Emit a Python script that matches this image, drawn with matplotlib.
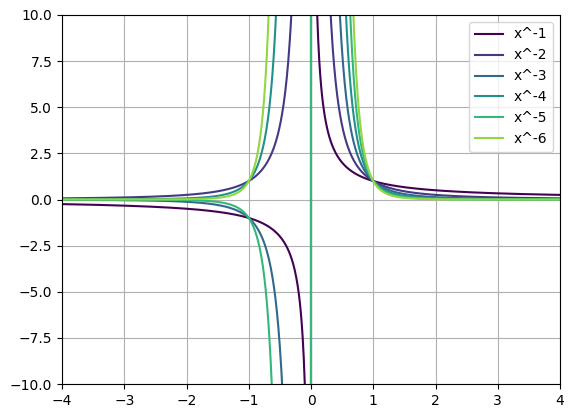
import numpy as np
import matplotlib
matplotlib.use('Agg')
import matplotlib.pyplot as plt

# exponents plotted, y = x^n
powers = [-1, -2, -3, -4, -5, -6]
labels = ['x^-1', 'x^-2', 'x^-3', 'x^-4', 'x^-5', 'x^-6']

x = np.linspace(-4, 4, 1000)  # even count so 0 is skipped

fig = plt.figure(figsize=(5.72, 4.18), dpi=100)
ax = fig.add_axes([62/572, 34/418, 498/572, 369/418])
colors = plt.cm.viridis(np.linspace(0, 1, 7)[:6])
for p, lab, c in zip(powers, labels, colors):
    ax.plot(x, x**float(p), color=c, label=lab)

ax.set_xlim(-4, 4)
ax.set_ylim(-10, 10)
ax.grid(True, color='#b0b0b0')
ax.legend(loc='upper right')
fig.savefig('out.png', dpi=100)
